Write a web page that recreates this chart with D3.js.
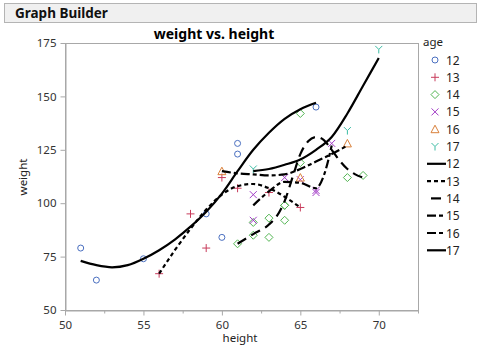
<!DOCTYPE html>
<html>
<head>
<meta charset="utf-8">
<script src="https://cdn.jsdelivr.net/npm/d3@7"></script>
<style>
  body { margin: 0; background: #fff; font-family: "Noto Sans", "Open Sans", sans-serif; }
  .tick text { fill: #333; }
</style>
</head>
<body>
<div id="chart"></div>
<script>
/* CONSTANTS AND GLOBALS */
const width = 481,
  height = 351,
  margin = { top: 43, bottom: 41, left: 65, right: 63 };

/* DATA */
const ages = ["12", "13", "14", "15", "16", "17"];

// raw points, one pair of arrays per age
const height12 = [59, 61, 55, 66, 52, 60, 61, 51];
const weight12 = [95, 123, 74, 145, 64, 84, 128, 79];
const height13 = [60, 61, 56, 65, 63, 58, 59];
const weight13 = [112, 107, 67, 98, 105, 95, 79];
const height14 = [61, 62, 65, 63, 62, 63, 64, 65, 64, 68, 64, 69];
const weight14 = [81, 91, 142, 84, 85, 93, 99, 119, 92, 112, 99, 113];
const height15 = [62, 64, 67, 65, 66, 62, 66];
const weight15 = [92, 112, 128, 111, 105, 104, 106];
const height16 = [60, 65, 68];
const weight16 = [115, 112, 128];
const height17 = [62, 68, 70];
const weight17 = [116, 134, 172];

// smoother curves as [height, weight]
const smooth12 = [[51, 73], [52, 71], [53, 70], [54, 71], [55, 74], [56, 78], [57, 83], [58, 89],
  [59, 96], [60, 104.5], [61, 115], [62, 125], [63, 133], [64, 139.5], [65, 144], [66, 147]];
const smooth13 = [[56, 67], [57, 78], [58, 88], [59, 97], [60, 104], [61, 108], [62, 109],
  [63, 107], [64, 103], [65, 98]];
const smooth14 = [[61, 81], [62, 85.5], [63, 90], [63.5, 94], [64, 101], [64.5, 112], [65, 123],
  [65.5, 129], [66, 131], [66.5, 129.5], [67, 125], [67.5, 120], [68, 116], [68.5, 113.5], [69, 112]];
const smooth15 = [[62, 99], [63, 105.5], [64, 110], [65, 109.5], [66, 107], [66.5, 113], [67, 127]];
const smooth16 = [[60, 115], [61, 114], [62, 113.5], [63, 113], [64, 113.5], [65, 116], [66, 119.5],
  [67, 123], [68, 127]];
const smooth17 = [[62, 115], [63, 116], [64, 118], [65, 120.5], [66, 125], [67, 131], [68, 142],
  [69, 155], [70, 168]];

const xTicks = [50, 55, 60, 65, 70];
const xMinorTicks = [52.5, 57.5, 62.5, 67.5, 72.5];
const yTicks = [50, 75, 100, 125, 150, 175];

/* STYLES */
const colors = ["#4a6fc0", "#c83c5c", "#52b552", "#a33dc7", "#d9803a", "#3cbca4"];
const dashes = [null, "4,3", "10,6", "9,3,4,3", "9,3,4,3", null];
const legendOffsets = [0, 0, -4, 0, 0, 0];

const pointsByAge = [
  [height12, weight12], [height13, weight13], [height14, weight14],
  [height15, weight15], [height16, weight16], [height17, weight17]
].map(([hs, ws], i) => hs.map((h, j) => ({ age: ages[i], height: h, weight: ws[j] })));

const smoothByAge = [smooth12, smooth13, smooth14, smooth15, smooth16, smooth17];

/* SCALES */
const xScale = d3.scaleLinear()
  .domain([50, 72.5])
  .range([margin.left, width - margin.right]);

const yScale = d3.scaleLinear()
  .domain([50, 175])
  .range([height - margin.bottom, margin.top]);

/* SVG */
const svg = d3.select("#chart")
  .append("svg")
  .attr("width", width)
  .attr("height", height);

// header bar
svg.append("rect")
  .attr("x", 4.5).attr("y", 3.5)
  .attr("width", 472).attr("height", 19)
  .attr("fill", "#f0f0f0")
  .attr("stroke", "#b4b4b4");

svg.append("text")
  .attr("x", 15).attr("y", 18)
  .attr("font-size", 13.5)
  .attr("font-weight", "bold")
  .attr("fill", "#111")
  .text("Graph Builder");

svg.append("text")
  .attr("x", 214).attr("y", 39)
  .attr("text-anchor", "middle")
  .attr("font-size", 14)
  .attr("font-weight", "bold")
  .attr("fill", "#000")
  .text("weight vs. height");

// frame
svg.append("rect")
  .attr("x", margin.left + 0.5)
  .attr("y", margin.top + 0.5)
  .attr("width", width - margin.left - margin.right)
  .attr("height", height - margin.top - margin.bottom)
  .attr("fill", "none")
  .attr("stroke", "#a8a8a8");

// axes
const xAxis = d3.axisBottom(xScale).tickValues(xTicks).tickSize(5).tickSizeOuter(0);
const yAxis = d3.axisLeft(yScale).tickValues(yTicks).tickSize(5).tickSizeOuter(0);

const gx = svg.append("g")
  .attr("class", "axis x-axis")
  .attr("transform", `translate(0, ${height - margin.bottom + 0.5})`)
  .call(xAxis);

gx.selectAll(".minor")
  .data(xMinorTicks)
  .join("line")
  .attr("class", "minor")
  .attr("x1", d => xScale(d) + 0.5).attr("x2", d => xScale(d) + 0.5)
  .attr("y1", 0).attr("y2", 3)
  .attr("stroke", "#a8a8a8");

const gy = svg.append("g")
  .attr("class", "axis y-axis")
  .attr("transform", `translate(${margin.left + 0.5}, 0)`)
  .call(yAxis);

[gx, gy].forEach(g => {
  g.select(".domain").attr("stroke", "#a8a8a8");
  g.selectAll(".tick line").attr("stroke", "#a8a8a8");
  g.selectAll(".tick text").attr("font-size", 11.5).attr("font-family", "Noto Sans, sans-serif");
});
gx.selectAll(".tick text").attr("dy", "0.95em");
gy.selectAll(".tick text").attr("dx", "-1px");

svg.append("text")
  .attr("x", 240).attr("y", 342)
  .attr("text-anchor", "middle")
  .attr("font-size", 11.5)
  .attr("fill", "#222")
  .text("height");

svg.append("text")
  .attr("transform", "translate(27, 177) rotate(-90)")
  .attr("text-anchor", "middle")
  .attr("font-size", 11.5)
  .attr("fill", "#222")
  .text("weight");

/* MARKERS */
function drawMarker(g, i, color) {
  const s = 3.5;
  if (i === 0) {
    g.append("circle").attr("r", 3).attr("fill", "none").attr("stroke", color);
  } else if (i === 1) {
    g.append("path").attr("d", `M${-s - 0.5},0H${s + 0.5}M0,${-s - 0.5}V${s + 0.5}`).attr("stroke", color);
  } else if (i === 2) {
    g.append("path").attr("d", `M0,${-s - 0.5}L${s + 0.5},0L0,${s + 0.5}L${-s - 0.5},0Z`)
      .attr("fill", "none").attr("stroke", color);
  } else if (i === 3) {
    g.append("path").attr("d", `M${-s},${-s}L${s},${s}M${-s},${s}L${s},${-s}`).attr("stroke", color);
  } else if (i === 4) {
    g.append("path").attr("d", `M0,${-s - 0.5}L${s + 0.5},${s}L${-s - 0.5},${s}Z`)
      .attr("fill", "none").attr("stroke", color);
  } else {
    g.append("path").attr("d", `M${-s},${-s}L0,0L${s},${-s}M0,0V${s + 0.5}`)
      .attr("fill", "none").attr("stroke", color);
  }
}

svg.append("defs").append("clipPath").attr("id", "plot-clip")
  .append("rect")
  .attr("x", margin.left).attr("y", margin.top)
  .attr("width", width - margin.left - margin.right)
  .attr("height", height - margin.top - margin.bottom);

const plot = svg.append("g").attr("clip-path", "url(#plot-clip)");

pointsByAge.forEach((pts, i) => {
  plot.append("g")
    .selectAll("g")
    .data(pts)
    .join("g")
    .attr("transform", d => `translate(${xScale(d.height)}, ${yScale(d.weight)})`)
    .each(function () { drawMarker(d3.select(this), i, colors[i]); });
});

/* SMOOTHERS */
const lineFunc = d3.line()
  .x(d => xScale(d[0]))
  .y(d => yScale(d[1]))
  .curve(d3.curveMonotoneX);

plot.selectAll("path.smooth")
  .data(smoothByAge)
  .join("path")
  .attr("class", "smooth")
  .attr("d", lineFunc)
  .attr("fill", "none")
  .attr("stroke", "#000")
  .attr("stroke-width", 2.2)
  .attr("stroke-dasharray", (d, i) => dashes[i]);

/* LEGEND */
const legend = svg.append("g").attr("class", "legend");

legend.append("text")
  .attr("x", 423).attr("y", 46)
  .attr("font-size", 11.5)
  .attr("fill", "#222")
  .text("age");

const rowY = i => 60 + i * 17.3;

ages.forEach((a, i) => {
  const g = legend.append("g").attr("transform", `translate(435, ${rowY(i)})`);
  drawMarker(g, i, colors[i]);
  legend.append("text")
    .attr("x", 446).attr("y", rowY(i) + 4.5)
    .attr("font-size", 12)
    .attr("fill", "#222")
    .text(a);
});

ages.forEach((a, i) => {
  const y = rowY(i + 6);
  legend.append("line")
    .attr("x1", 427).attr("x2", 446)
    .attr("y1", y).attr("y2", y)
    .attr("stroke", "#000")
    .attr("stroke-width", 2.2)
    .attr("stroke-dasharray", dashes[i])
    .attr("stroke-dashoffset", legendOffsets[i]);
  legend.append("text")
    .attr("x", 446).attr("y", y + 4.5)
    .attr("font-size", 12)
    .attr("fill", "#222")
    .text(a);
});
</script>
</body>
</html>
